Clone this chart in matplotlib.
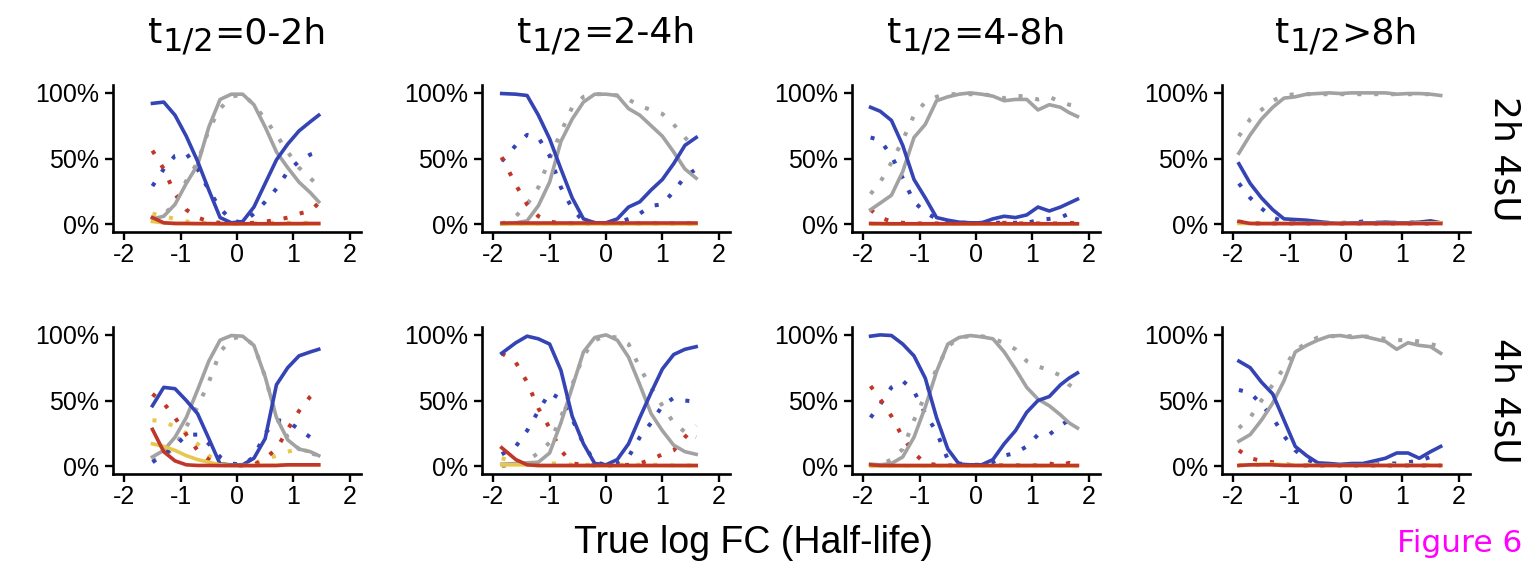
import matplotlib.pyplot as plt

plt.rcParams['font.family'] = ['DejaVu Sans']

# half-life bins (columns) and labelling times (rows)
col_titles = ['0-2h', '2-4h', '4-8h', '8h']
col_signs = ['=', '=', '=', '>']
row_labels = ['2h 4sU', '4h 4sU']
xticks = [-2, -1, 0, 1, 2]
xtick_labels = ['-2', '-1', '0', '1', '2']
yticks = [0, 0.5, 1]
ytick_labels = ['0%', '50%', '100%']

# ---- t1/2 = 0-2h ----
x_a = [-1.5, -1.3, -1.1, -0.9, -0.7, -0.5, -0.3, -0.1, 0.1, 0.3, 0.5, 0.7, 0.9, 1.1, 1.3, 1.45]
# 2h 4sU
blue_2h_a = [0.92, 0.93, 0.83, 0.67, 0.48, 0.26, 0.05, 0.01, 0.02, 0.13, 0.31, 0.49, 0.61, 0.71, 0.78, 0.83]
blue_dot_2h_a = [0.29, 0.42, 0.52, 0.54, 0.42, 0.26, 0.12, 0.03, 0.01, 0.08, 0.17, 0.27, 0.40, 0.48, 0.53, 0.55]
grey_2h_a = [0.04, 0.06, 0.15, 0.31, 0.45, 0.74, 0.95, 0.99, 0.99, 0.91, 0.74, 0.55, 0.43, 0.32, 0.24, 0.17]
grey_dot_2h_a = [0.03, 0.07, 0.16, 0.33, 0.47, 0.72, 0.88, 0.97, 0.99, 0.91, 0.80, 0.68, 0.55, 0.43, 0.35, 0.29]
red_2h_a = [0.05, 0.01, 0.005, 0.005, 0.004, 0.004, 0.003, 0.003, 0.003, 0.003, 0.003, 0.003, 0.004, 0.004, 0.005, 0.005]
red_dot_2h_a = [0.56, 0.42, 0.23, 0.11, 0.05, 0.02, 0.01, 0.005, 0.005, 0.01, 0.02, 0.03, 0.05, 0.08, 0.10, 0.16]
yel_2h_a = [0.02, 0.01, 0.005, 0.004, 0.003, 0.003, 0.002, 0.002, 0.002, 0.002, 0.002, 0.002, 0.002, 0.002, 0.002, 0.002]
yel_dot_2h_a = [0.08, 0.06, 0.04, 0.02, 0.01, 0.01, 0.005, 0.005, 0.005, 0.005, 0.01, 0.01, 0.01, 0.01, 0.01, 0.01]
# 4h 4sU
blue_4h_a = [0.46, 0.60, 0.59, 0.50, 0.40, 0.21, 0.015, 0.01, 0.01, 0.06, 0.21, 0.62, 0.75, 0.84, 0.87, 0.89]
blue_dot_4h_a = [0.03, 0.09, 0.15, 0.24, 0.24, 0.17, 0.07, 0.02, 0.01, 0.07, 0.25, 0.35, 0.34, 0.28, 0.22, 0.20]
grey_4h_a = [0.07, 0.12, 0.22, 0.37, 0.58, 0.80, 0.96, 0.995, 0.99, 0.92, 0.68, 0.37, 0.20, 0.13, 0.11, 0.08]
grey_dot_4h_a = [0.04, 0.07, 0.15, 0.30, 0.45, 0.64, 0.87, 0.97, 0.99, 0.92, 0.68, 0.37, 0.22, 0.13, 0.10, 0.08]
red_4h_a = [0.28, 0.11, 0.04, 0.01, 0.005, 0.005, 0.004, 0.004, 0.004, 0.004, 0.005, 0.005, 0.01, 0.01, 0.01, 0.01]
red_dot_4h_a = [0.55, 0.48, 0.37, 0.24, 0.12, 0.05, 0.01, 0.005, 0.005, 0.01, 0.06, 0.13, 0.28, 0.42, 0.53, 0.59]
yel_4h_a = [0.17, 0.15, 0.12, 0.08, 0.05, 0.03, 0.01, 0.005, 0.005, 0.005, 0.005, 0.005, 0.01, 0.01, 0.01, 0.01]
yel_dot_4h_a = [0.35, 0.34, 0.30, 0.25, 0.17, 0.08, 0.02, 0.01, 0.01, 0.02, 0.05, 0.08, 0.11, 0.13, 0.11, 0.10]

# ---- t1/2 = 2-4h ----
x_b = [-1.85, -1.6, -1.4, -1.2, -1.0, -0.8, -0.6, -0.4, -0.2, 0.0, 0.2, 0.4, 0.6, 0.8, 1.0, 1.2, 1.4, 1.6]
blue_2h_b = [0.995, 0.99, 0.98, 0.83, 0.65, 0.42, 0.20, 0.04, 0.01, 0.01, 0.04, 0.13, 0.17, 0.26, 0.34, 0.46, 0.60, 0.66]
blue_dot_2h_b = [0.48, 0.60, 0.68, 0.66, 0.52, 0.28, 0.12, 0.02, 0.01, 0.005, 0.01, 0.04, 0.08, 0.14, 0.15, 0.25, 0.36, 0.42]
grey_2h_b = [0.0, 0.01, 0.025, 0.14, 0.32, 0.63, 0.80, 0.93, 0.99, 0.99, 0.98, 0.88, 0.83, 0.75, 0.67, 0.55, 0.42, 0.35]
grey_dot_2h_b = [0.0, 0.06, 0.15, 0.28, 0.50, 0.70, 0.89, 0.97, 0.99, 0.99, 0.98, 0.95, 0.90, 0.87, 0.84, 0.76, 0.66, 0.57]
red_2h_b = [0.005, 0.005, 0.005, 0.005, 0.005, 0.005, 0.005, 0.005, 0.005, 0.005, 0.005, 0.005, 0.005, 0.005, 0.005, 0.005, 0.005, 0.005]
red_dot_2h_b = [0.51, 0.30, 0.15, 0.06, 0.02, 0.005, 0.005, 0.005, 0.005, 0.005, 0.005, 0.005, 0.005, 0.005, 0.005, 0.005, 0.005, 0.005]
yel_2h_b = [0.003, 0.003, 0.003, 0.003, 0.003, 0.003, 0.003, 0.003, 0.003, 0.003, 0.003, 0.003, 0.003, 0.003, 0.003, 0.003, 0.003, 0.003]
yel_dot_2h_b = [0.003, 0.003, 0.003, 0.003, 0.003, 0.003, 0.003, 0.003, 0.003, 0.003, 0.003, 0.003, 0.003, 0.003, 0.003, 0.003, 0.003, 0.003]
blue_4h_b = [0.86, 0.94, 0.99, 0.97, 0.93, 0.73, 0.38, 0.17, 0.02, 0.01, 0.05, 0.17, 0.37, 0.56, 0.74, 0.85, 0.89, 0.91]
blue_dot_4h_b = [0.09, 0.15, 0.27, 0.42, 0.56, 0.51, 0.36, 0.17, 0.03, 0.01, 0.02, 0.07, 0.22, 0.33, 0.46, 0.52, 0.50, 0.49]
grey_4h_b = [0.015, 0.02, 0.025, 0.03, 0.10, 0.33, 0.60, 0.87, 0.98, 1.0, 0.96, 0.83, 0.62, 0.40, 0.27, 0.16, 0.11, 0.09]
grey_dot_4h_b = [0.0, 0.01, 0.04, 0.10, 0.18, 0.37, 0.62, 0.84, 0.96, 0.99, 0.98, 0.93, 0.75, 0.60, 0.46, 0.33, 0.26, 0.22]
red_4h_b = [0.14, 0.05, 0.01, 0.005, 0.005, 0.005, 0.005, 0.005, 0.005, 0.005, 0.005, 0.005, 0.005, 0.005, 0.005, 0.005, 0.005, 0.005]
red_dot_4h_b = [0.86, 0.79, 0.64, 0.44, 0.29, 0.12, 0.02, 0.01, 0.005, 0.005, 0.005, 0.01, 0.02, 0.05, 0.09, 0.12, 0.22, 0.31]
yel_4h_b = [0.01, 0.01, 0.01, 0.003, 0.003, 0.003, 0.003, 0.003, 0.003, 0.003, 0.003, 0.003, 0.003, 0.003, 0.003, 0.003, 0.003, 0.003]
yel_dot_4h_b = [0.06, 0.03, 0.03, 0.02, 0.02, 0.02, 0.01, 0.01, 0.01, 0.01, 0.01, 0.01, 0.01, 0.01, 0.01, 0.005, 0.005, 0.005]

# ---- t1/2 = 4-8h ----
x_c = [-1.87, -1.7, -1.5, -1.3, -1.1, -0.9, -0.7, -0.5, -0.3, -0.1, 0.1, 0.3, 0.5, 0.7, 0.9, 1.1, 1.3, 1.5, 1.65, 1.8]
blue_2h_c = [0.89, 0.86, 0.79, 0.60, 0.34, 0.20, 0.05, 0.03, 0.015, 0.01, 0.01, 0.04, 0.06, 0.05, 0.07, 0.13, 0.10, 0.13, 0.16, 0.19]
blue_dot_2h_c = [0.66, 0.64, 0.52, 0.35, 0.17, 0.09, 0.04, 0.01, 0.01, 0.01, 0.01, 0.01, 0.01, 0.01, 0.01, 0.03, 0.04, 0.05, 0.08, 0.10]
grey_2h_c = [0.11, 0.16, 0.22, 0.40, 0.66, 0.76, 0.94, 0.97, 0.99, 1.0, 0.99, 0.975, 0.94, 0.95, 0.95, 0.87, 0.91, 0.89, 0.85, 0.82]
grey_dot_2h_c = [0.23, 0.32, 0.47, 0.64, 0.83, 0.93, 0.97, 0.99, 0.99, 0.99, 0.99, 0.98, 0.96, 0.98, 0.97, 0.95, 0.97, 0.93, 0.91, 0.90]
red_2h_c = [0.005, 0.004, 0.003, 0.003, 0.003, 0.003, 0.003, 0.003, 0.003, 0.003, 0.003, 0.003, 0.003, 0.003, 0.003, 0.003, 0.003, 0.003, 0.003, 0.003]
red_dot_2h_c = [0.11, 0.05, 0.02, 0.01, 0.005, 0.005, 0.005, 0.005, 0.005, 0.005, 0.005, 0.005, 0.01, 0.005, 0.005, 0.005, 0.005, 0.005, 0.01, 0.005]
yel_2h_c = [0.002, 0.002, 0.002, 0.002, 0.002, 0.002, 0.002, 0.002, 0.002, 0.002, 0.002, 0.002, 0.002, 0.002, 0.002, 0.002, 0.002, 0.002, 0.002, 0.002]
yel_dot_2h_c = [0.002, 0.002, 0.002, 0.002, 0.002, 0.002, 0.002, 0.002, 0.002, 0.002, 0.002, 0.002, 0.002, 0.002, 0.002, 0.002, 0.002, 0.002, 0.002, 0.002]
blue_4h_c = [0.99, 1.0, 0.995, 0.93, 0.84, 0.67, 0.37, 0.13, 0.015, 0.01, 0.01, 0.05, 0.17, 0.27, 0.41, 0.50, 0.53, 0.62, 0.67, 0.71]
blue_dot_4h_c = [0.37, 0.47, 0.60, 0.65, 0.57, 0.40, 0.26, 0.05, 0.02, 0.01, 0.01, 0.03, 0.08, 0.10, 0.15, 0.24, 0.24, 0.31, 0.35, 0.39]
grey_4h_c = [0.015, 0.01, 0.02, 0.07, 0.22, 0.45, 0.72, 0.93, 0.98, 0.995, 0.985, 0.97, 0.87, 0.74, 0.60, 0.51, 0.46, 0.39, 0.33, 0.29]
grey_dot_4h_c = [0.0, 0.01, 0.05, 0.13, 0.35, 0.54, 0.74, 0.91, 0.98, 0.99, 0.99, 0.97, 0.94, 0.89, 0.80, 0.76, 0.73, 0.69, 0.62, 0.58]
red_4h_c = [0.01, 0.005, 0.005, 0.005, 0.005, 0.005, 0.005, 0.005, 0.005, 0.005, 0.005, 0.005, 0.005, 0.005, 0.005, 0.005, 0.005, 0.005, 0.005, 0.005]
red_dot_4h_c = [0.61, 0.51, 0.38, 0.22, 0.10, 0.02, 0.01, 0.005, 0.005, 0.005, 0.005, 0.005, 0.005, 0.005, 0.005, 0.005, 0.02, 0.005, 0.025, 0.01]
yel_4h_c = [0.003, 0.003, 0.003, 0.003, 0.003, 0.003, 0.003, 0.003, 0.003, 0.003, 0.003, 0.003, 0.003, 0.003, 0.003, 0.003, 0.003, 0.003, 0.003, 0.003]
yel_dot_4h_c = [0.003, 0.003, 0.003, 0.003, 0.003, 0.003, 0.003, 0.003, 0.003, 0.003, 0.003, 0.003, 0.003, 0.003, 0.003, 0.003, 0.003, 0.003, 0.003, 0.003]

# ---- t1/2 > 8h ----
x_d = [-1.9, -1.7, -1.5, -1.3, -1.1, -0.9, -0.7, -0.5, -0.3, -0.1, 0.1, 0.3, 0.5, 0.7, 0.9, 1.1, 1.3, 1.5, 1.68]
blue_2h_d = [0.46, 0.31, 0.20, 0.11, 0.04, 0.035, 0.03, 0.02, 0.01, 0.005, 0.01, 0.01, 0.01, 0.015, 0.01, 0.01, 0.015, 0.025, 0.01]
blue_dot_2h_d = [0.31, 0.20, 0.12, 0.05, 0.02, 0.01, 0.01, 0.01, 0.01, 0.01, 0.01, 0.02, 0.01, 0.01, 0.01, 0.01, 0.015, 0.01, 0.01]
grey_2h_d = [0.54, 0.68, 0.80, 0.89, 0.96, 0.97, 0.99, 0.995, 1.0, 0.995, 1.0, 1.0, 1.0, 1.0, 0.99, 0.995, 0.995, 0.99, 0.98]
grey_dot_2h_d = [0.67, 0.80, 0.87, 0.94, 0.98, 0.99, 0.99, 0.99, 0.99, 0.99, 0.99, 0.99, 0.99, 0.99, 0.99, 0.99, 0.99, 0.99, 0.99]
red_2h_d = [0.02, 0.005, 0.004, 0.004, 0.004, 0.004, 0.004, 0.004, 0.004, 0.004, 0.004, 0.004, 0.004, 0.004, 0.004, 0.004, 0.004, 0.004, 0.004]
red_dot_2h_d = [0.02, 0.005, 0.005, 0.005, 0.005, 0.005, 0.005, 0.005, 0.005, 0.005, 0.005, 0.005, 0.005, 0.005, 0.005, 0.005, 0.005, 0.005, 0.005]
yel_2h_d = [0.005, 0.005, 0.005, 0.005, 0.005, 0.005, 0.005, 0.005, 0.005, 0.005, 0.005, 0.005, 0.005, 0.005, 0.005, 0.005, 0.008, 0.01, 0.01]
yel_dot_2h_d = [0.005, 0.005, 0.005, 0.005, 0.005, 0.005, 0.005, 0.005, 0.005, 0.005, 0.005, 0.005, 0.005, 0.005, 0.005, 0.005, 0.005, 0.005, 0.005]
blue_4h_d = [0.80, 0.75, 0.64, 0.55, 0.35, 0.15, 0.08, 0.025, 0.02, 0.013, 0.02, 0.02, 0.04, 0.06, 0.10, 0.10, 0.06, 0.11, 0.15]
blue_dot_4h_d = [0.58, 0.56, 0.47, 0.37, 0.23, 0.12, 0.05, 0.02, 0.01, 0.01, 0.01, 0.01, 0.01, 0.02, 0.02, 0.03, 0.04, 0.07, 0.06]
grey_4h_d = [0.19, 0.24, 0.35, 0.48, 0.65, 0.87, 0.92, 0.96, 0.99, 0.995, 0.98, 0.99, 0.97, 0.95, 0.89, 0.94, 0.92, 0.91, 0.86]
grey_dot_4h_d = [0.29, 0.37, 0.50, 0.62, 0.75, 0.88, 0.94, 0.98, 0.99, 0.99, 0.99, 0.99, 0.98, 0.97, 0.96, 0.96, 0.95, 0.93, 0.91]
red_4h_d = [0.005, 0.01, 0.01, 0.01, 0.005, 0.005, 0.005, 0.005, 0.005, 0.005, 0.005, 0.005, 0.005, 0.005, 0.005, 0.005, 0.005, 0.005, 0.005]
red_dot_4h_d = [0.12, 0.06, 0.04, 0.03, 0.015, 0.005, 0.005, 0.005, 0.005, 0.005, 0.005, 0.005, 0.005, 0.005, 0.005, 0.005, 0.005, 0.005, 0.005]
yel_4h_d = [0.005, 0.01, 0.015, 0.015, 0.01, 0.005, 0.005, 0.005, 0.005, 0.005, 0.005, 0.005, 0.005, 0.005, 0.005, 0.005, 0.005, 0.005, 0.005]
yel_dot_4h_d = [0.005, 0.005, 0.005, 0.005, 0.005, 0.005, 0.005, 0.005, 0.005, 0.005, 0.005, 0.005, 0.005, 0.005, 0.005, 0.005, 0.005, 0.005, 0.005]

BLUE = '#3444b4'
GREY = '#a2a2a2'
RED = '#c0372a'
YEL = '#e8c84c'

# rows x columns, each panel: x, then (blue, blue_dot, grey, grey_dot, red, red_dot, yel, yel_dot)
panels = [
    [(x_a, blue_2h_a, blue_dot_2h_a, grey_2h_a, grey_dot_2h_a, red_2h_a, red_dot_2h_a, yel_2h_a, yel_dot_2h_a),
     (x_b, blue_2h_b, blue_dot_2h_b, grey_2h_b, grey_dot_2h_b, red_2h_b, red_dot_2h_b, yel_2h_b, yel_dot_2h_b),
     (x_c, blue_2h_c, blue_dot_2h_c, grey_2h_c, grey_dot_2h_c, red_2h_c, red_dot_2h_c, yel_2h_c, yel_dot_2h_c),
     (x_d, blue_2h_d, blue_dot_2h_d, grey_2h_d, grey_dot_2h_d, red_2h_d, red_dot_2h_d, yel_2h_d, yel_dot_2h_d)],
    [(x_a, blue_4h_a, blue_dot_4h_a, grey_4h_a, grey_dot_4h_a, red_4h_a, red_dot_4h_a, yel_4h_a, yel_dot_4h_a),
     (x_b, blue_4h_b, blue_dot_4h_b, grey_4h_b, grey_dot_4h_b, red_4h_b, red_dot_4h_b, yel_4h_b, yel_dot_4h_b),
     (x_c, blue_4h_c, blue_dot_4h_c, grey_4h_c, grey_dot_4h_c, red_4h_c, red_dot_4h_c, yel_4h_c, yel_dot_4h_c),
     (x_d, blue_4h_d, blue_dot_4h_d, grey_4h_d, grey_dot_4h_d, red_4h_d, red_dot_4h_d, yel_4h_d, yel_dot_4h_d)],
]

W, H = 1524, 565
fig = plt.figure(figsize=(W / 100, H / 100), dpi=100)
renderer = fig.canvas.get_renderer()


def strip_title(cx, base, pieces):
    # lay out (text, size, drop) pieces side by side, centred on cx (pixels)
    texts = []
    widths = []
    for s, size, drop in pieces:
        t = fig.text(0, 0, s, fontsize=size, va='baseline', ha='left')
        texts.append((t, drop))
        widths.append(t.get_window_extent(renderer).width)
    x0 = cx - sum(widths) / 2
    for (t, drop), w in zip(texts, widths):
        t.set_position((x0 / W, 1 - (base + drop) / H))
        x0 += w


col_left = [113, 482, 852, 1222]
ax_w = 248
row_top = [85, 327]
row_bot = [232, 474]

dot = (0, (1, 3.2))
tick_font = dict(family='Liberation Sans', size=18)

for r in range(2):
    for c in range(4):
        L, T, B = col_left[c], row_top[r], row_bot[r]
        ax = fig.add_axes([L / W, 1 - B / H, ax_w / W, (B - T) / H])
        x, bl, bld, gr, grd, rd, rdd, yl, yld = panels[r][c]
        # dotted series first, solid lines on top
        ax.plot(x, grd, color=GREY, lw=2.9, ls=dot)
        ax.plot(x, bld, color=BLUE, lw=2.9, ls=dot)
        ax.plot(x, yld, color=YEL, lw=2.9, ls=dot)
        ax.plot(x, rdd, color=RED, lw=2.9, ls=dot)
        ax.plot(x, gr, color=GREY, lw=2.6)
        ax.plot(x, bl, color=BLUE, lw=2.6)
        ax.plot(x, yl, color=YEL, lw=2.6)
        ax.plot(x, rd, color=RED, lw=2.6)

        ax.set_xlim(-2.2, 2.2)
        ax.set_ylim(-0.06, 1.06)
        ax.set_xticks(xticks)
        ax.set_xticklabels(xtick_labels, fontdict=tick_font)
        ax.set_yticks(yticks)
        ax.set_yticklabels(ytick_labels, fontdict=tick_font)
        for s in ['top', 'right']:
            ax.spines[s].set_visible(False)
        for s in ['left', 'bottom']:
            ax.spines[s].set_linewidth(1.9)
        ax.tick_params(length=6, width=1.7, pad=2, colors='black')
        ax.tick_params(axis='y', pad=4)

        if r == 0:
            strip_title(L + ax_w / 2, 43,
                        [('t', 26, 0), ('1/2', 23, 7),
                         (col_signs[c] + col_titles[c], 26, 0)])
    fig.text(1505 / W, 1 - (row_top[r] + row_bot[r]) / 2 / H, row_labels[r],
             rotation=270, ha='center', va='center', fontsize=26)

fig.text(753 / W, 1 - 553 / H, 'True log FC (Half-life)', ha='center', va='baseline',
         family='Liberation Sans', fontsize=27)
fig.text(1522 / W, 1 - 552 / H, 'Figure 6', ha='right', va='baseline',
         color='#ff00ff', fontsize=22.5)

fig.savefig('out.png', dpi=100)
